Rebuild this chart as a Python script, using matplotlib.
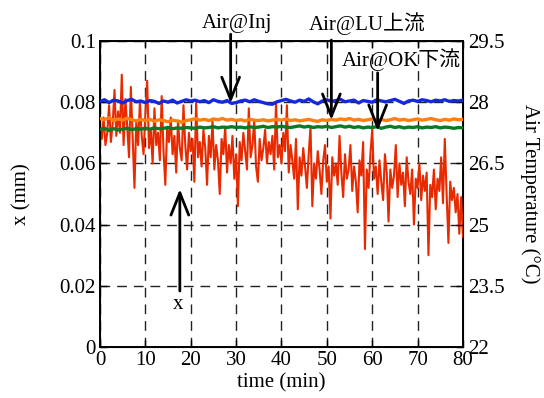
import numpy as np
import matplotlib.pyplot as plt

plt.rcParams['font.family'] = ['Liberation Serif', 'Noto Sans CJK JP']

# displacement x (mm), sampled every 0.4 min
t_x = np.arange(0, 80.01, 0.4)
x_mm = [
    0.072, 0.068, 0.075, 0.066, 0.070, 0.079, 0.067, 0.073, 0.084, 0.069,
    0.077, 0.070, 0.089, 0.066, 0.081, 0.072, 0.062, 0.085, 0.068, 0.052,
    0.074, 0.066, 0.080, 0.069, 0.063, 0.076, 0.087, 0.065, 0.071, 0.060,
    0.078, 0.066, 0.070, 0.061, 0.082, 0.064, 0.053, 0.072, 0.067, 0.075,
    0.063, 0.069, 0.057, 0.074, 0.065, 0.061, 0.079, 0.066, 0.058, 0.070,
    0.064, 0.068, 0.054, 0.080, 0.062, 0.067, 0.059, 0.071, 0.065, 0.053,
    0.069, 0.062, 0.074, 0.058, 0.066, 0.061, 0.050, 0.068, 0.063, 0.072,
    0.057, 0.066, 0.060, 0.069, 0.055, 0.063, 0.046, 0.067, 0.061, 0.070,
    0.064, 0.058, 0.078, 0.062, 0.066, 0.074, 0.059, 0.054, 0.068, 0.061,
    0.065, 0.071, 0.060, 0.067, 0.063, 0.069, 0.058, 0.080, 0.062, 0.066,
    0.060, 0.070, 0.064, 0.079, 0.057, 0.066, 0.061, 0.055, 0.068, 0.045,
    0.062, 0.056, 0.065, 0.059, 0.052, 0.063, 0.072, 0.046, 0.060, 0.055,
    0.064, 0.058, 0.050, 0.061, 0.066, 0.054, 0.059, 0.042, 0.062, 0.056,
    0.060, 0.053, 0.069, 0.057, 0.049, 0.063, 0.055, 0.058, 0.066, 0.051,
    0.059, 0.054, 0.044, 0.061, 0.056, 0.067, 0.032, 0.058, 0.052, 0.063,
    0.071, 0.055, 0.059, 0.050, 0.061, 0.054, 0.048, 0.063, 0.057, 0.041,
    0.058, 0.052, 0.056, 0.066, 0.049, 0.060, 0.053, 0.057, 0.046, 0.062,
    0.054, 0.050, 0.058, 0.040, 0.055, 0.052, 0.060, 0.048, 0.056, 0.051,
    0.057, 0.030, 0.053, 0.049, 0.058, 0.045, 0.055, 0.051, 0.062, 0.047,
    0.068, 0.050, 0.034, 0.054, 0.048, 0.052, 0.044, 0.050, 0.037, 0.049,
    0.036,
]

# air temperatures (C), sampled every 1 min
t_air = np.arange(0, 81, 1)
air_inj = [
    28.02, 28.06, 27.99, 28.05, 28.03, 27.98, 28.04, 28.07, 28.01, 28.03,
    27.99, 28.04, 28.02, 27.97, 28.03, 28.00, 28.05, 27.98, 28.02, 28.06,
    28.03, 28.05, 28.01, 28.04, 27.99, 28.06, 28.02, 28.00, 28.04, 27.97,
    27.99, 28.03, 28.05, 28.01, 28.06, 28.02, 27.99, 27.96, 27.95, 28.01,
    28.04, 28.07, 28.03, 28.00, 28.05, 28.02, 28.08, 28.01, 27.96, 28.03,
    28.06, 28.02, 28.04, 28.07, 28.01, 28.03, 28.05, 27.98, 28.04, 28.02,
    28.00, 28.06, 28.03, 28.01, 28.04, 28.07, 28.02, 27.97, 28.03, 28.05,
    28.02, 28.06, 28.04, 28.01, 28.05, 28.03, 28.06, 28.02, 28.04, 28.03,
    28.05,
]
air_lu = [
    27.60, 27.57, 27.62, 27.55, 27.59, 27.56, 27.61, 27.57, 27.54, 27.58,
    27.55, 27.58, 27.53, 27.57, 27.55, 27.52, 27.56, 27.54, 27.51, 27.55,
    27.57, 27.60, 27.56, 27.58, 27.55, 27.59, 27.57, 27.60, 27.56, 27.58,
    27.55, 27.57, 27.54, 27.58, 27.56, 27.55, 27.57, 27.54, 27.56, 27.58,
    27.56, 27.59, 27.55, 27.57, 27.54, 27.56, 27.58, 27.55, 27.53, 27.57,
    27.55, 27.58, 27.56, 27.59, 27.57, 27.60, 27.56, 27.58, 27.55, 27.57,
    27.59, 27.56, 27.58, 27.55, 27.57, 27.60, 27.56, 27.58, 27.55, 27.57,
    27.59, 27.56, 27.58, 27.60, 27.57, 27.55, 27.58, 27.56, 27.59, 27.57,
    27.58,
]
air_ok = [
    27.33, 27.36, 27.31, 27.35, 27.32, 27.34, 27.36, 27.33, 27.35, 27.34,
    27.36, 27.34, 27.37, 27.35, 27.36, 27.38, 27.35, 27.37, 27.36, 27.38,
    27.37, 27.36, 27.39, 27.37, 27.38, 27.40, 27.37, 27.39, 27.38, 27.40,
    27.38, 27.39, 27.37, 27.40, 27.38, 27.39, 27.41, 27.38, 27.40, 27.39,
    27.41, 27.39, 27.38, 27.40, 27.42, 27.39, 27.41, 27.38, 27.40, 27.39,
    27.41, 27.38, 27.40, 27.42, 27.39, 27.41, 27.38, 27.40, 27.37, 27.39,
    27.38, 27.40, 27.36, 27.39, 27.41, 27.38, 27.40, 27.37, 27.39, 27.38,
    27.40, 27.37, 27.39, 27.38, 27.40, 27.37, 27.39, 27.38, 27.36, 27.38,
    27.37,
]

x_ticks = [0, 10, 20, 30, 40, 50, 60, 70, 80]
y_ticks = [0, 0.02, 0.04, 0.06, 0.08, 0.1]
y_ticklabels = ['0', '0.02', '0.04', '0.06', '0.08', '0.1']
t_ticks = [22, 23.5, 25, 26.5, 28, 29.5]
t_ticklabels = ['22', '23.5', '25', '26.5', '28', '29.5']

fs = 15

fig = plt.figure(figsize=(5.44, 3.98), dpi=100)
ax = fig.add_axes([0.1838, 0.1281, 0.6672, 0.7689])

ax.plot(t_x, x_mm, color='#e82a00', lw=1.5, zorder=3)
ax.set_xlim(0, 80)
ax.set_ylim(0, 0.1)
ax.set_xticks(x_ticks)
ax.set_yticks(y_ticks)
ax.set_yticklabels(y_ticklabels)
ax.grid(True, color='#222222', ls=(0, (7, 5)), lw=1.0)
ax.tick_params(direction='in', labelsize=fs, top=True, length=5, width=1.0, pad=3)
ax.set_xlabel('time (min)', fontsize=fs, labelpad=2)
ax.set_ylabel('x (mm)', fontsize=fs, labelpad=20)
for s in ax.spines.values():
    s.set_linewidth(1.4)

ax2 = ax.twinx()
ax2.plot(t_air, air_ok, color='#0b7a25', lw=2.4, zorder=3)
ax2.plot(t_air, air_lu, color='#ff7f10', lw=2.4, zorder=3)
ax2.plot(t_air, air_inj, color='#1428e0', lw=2.4, zorder=3)
ax2.set_ylim(22, 29.5)
ax2.set_yticks(t_ticks)
ax2.set_yticklabels(t_ticklabels)
ax2.tick_params(direction='in', labelsize=fs, length=5, width=1.0, pad=4)
ax2.set_ylabel('Air Temperature (°C)', fontsize=fs, rotation=270, labelpad=25)

tr = ax.transData
arrow = dict(arrowstyle='->, head_length=0.8, head_width=0.32', color='black',
             lw=2.0, shrinkA=0, shrinkB=0, mutation_scale=20)

ax2.annotate('', xy=(28.8, 0.0797), xytext=(28.8, 0.1022), xycoords=tr,
             textcoords=tr, arrowprops=arrow, annotation_clip=False)
ax2.text(30.2, 0.1058, 'Air@Inj', transform=tr, fontsize=fs, ha='center',
         va='center', clip_on=False)

ax2.annotate('', xy=(51.0, 0.0742), xytext=(51.0, 0.1003), xycoords=tr,
             textcoords=tr, arrowprops=arrow, annotation_clip=False)
ax2.text(59.0, 0.1058, 'Air@LU上流', transform=tr, fontsize=fs, ha='center',
         va='center', clip_on=False)

ax2.annotate('', xy=(61.2, 0.0706), xytext=(61.2, 0.0896), xycoords=tr,
             textcoords=tr, arrowprops=arrow, annotation_clip=False)
ax2.text(66.5, 0.0938, 'Air@OK下流', transform=tr, fontsize=fs, ha='center',
         va='center', clip_on=False)

ax2.annotate('', xy=(17.6, 0.0516), xytext=(17.6, 0.0183), xycoords=tr,
             textcoords=tr, arrowprops=arrow, annotation_clip=False)
ax2.text(17.1, 0.0140, 'x', transform=tr, fontsize=fs, ha='center',
         va='center', clip_on=False)

fig.savefig('out.png', dpi=100)
